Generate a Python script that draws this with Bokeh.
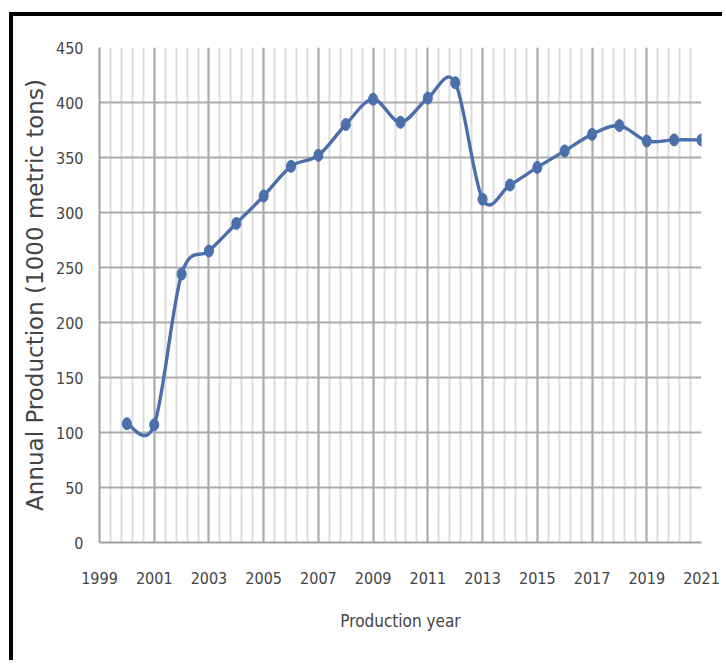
import numpy as np
from bokeh.plotting import figure
from bokeh.models import Range1d, FixedTicker, ColumnDataSource
from bokeh.embed import file_html
from bokeh.resources import INLINE

# ---- data ----
years = [2000, 2001, 2002, 2003, 2004, 2005, 2006, 2007, 2008, 2009, 2010,
         2011, 2012, 2013, 2014, 2015, 2016, 2017, 2018, 2019, 2020, 2021]
production = [108, 107, 244, 265, 290, 315, 342, 352, 380, 403, 382,
              404, 418, 312, 325, 341, 356, 371, 379, 365, 366, 366]
x_ticks = [1999, 2001, 2003, 2005, 2007, 2009, 2011, 2013, 2015, 2017, 2019, 2021]
y_ticks = [0, 50, 100, 150, 200, 250, 300, 350, 400, 450]
x_title = "Production year"
y_title = "Annual Production (1000 metric tons)"

LINE = "#4A6FAA"
GRID = "#ABABAB"
MINOR = "#DCDCDC"
TXT = "#444444"
NARROW = "DejaVu Sans Condensed"

p = figure(width=713, height=648, output_backend="svg", toolbar_location=None,
           x_range=Range1d(x_ticks[0], x_ticks[-1]), y_range=Range1d(y_ticks[0], y_ticks[-1]),
           min_border_left=86, min_border_top=31, min_border_right=25, min_border_bottom=122,
           margin=(12, 0, 0, 9),
           styles={"border-top": "4px solid black", "border-left": "4px solid black"})
p.outline_line_color = None
p.background_fill_color = "white"
p.border_fill_color = "white"

# smoothed line (Excel-like), control points derived from the data
xs = np.array(years, dtype=float)
ys = np.array(production, dtype=float)
xp = np.concatenate([[xs[0]], xs, [xs[-1]]])
yp = np.concatenate([[ys[0]], ys, [ys[-1]]])
n = len(xs) - 1
src = ColumnDataSource(dict(
    x0=xs[:-1], y0=ys[:-1], x1=xs[1:], y1=ys[1:],
    cx0=xs[:-1] + (xp[2:n + 2] - xp[0:n]) / 6.0,
    cy0=ys[:-1] + (yp[2:n + 2] - yp[0:n]) / 6.0,
    cx1=xs[1:] - (xp[3:n + 3] - xp[1:n + 1]) / 6.0,
    cy1=ys[1:] - (yp[3:n + 3] - yp[1:n + 1]) / 6.0,
))
p.bezier(x0="x0", y0="y0", x1="x1", y1="y1", cx0="cx0", cy0="cy0", cx1="cx1", cy1="cy1",
         source=src, line_color=LINE, line_width=3.4)
p.ellipse(x=years, y=production, width=9, height=12, width_units="screen",
          height_units="screen", fill_color=LINE, line_color=LINE)

# axes / grid
minor = [x_ticks[0] + 0.4 * i for i in range(int(round((x_ticks[-1] - x_ticks[0]) / 0.4)) + 1)]
p.xaxis.ticker = FixedTicker(ticks=x_ticks, minor_ticks=minor)
p.yaxis.ticker = FixedTicker(ticks=y_ticks)
for ax in (p.xaxis, p.yaxis):
    ax.major_tick_line_color = None
    ax.minor_tick_line_color = None
    ax.major_tick_out = 0
    ax.major_tick_in = 0
    ax.axis_line_color = "#A0A0A0"
    ax.axis_line_width = 2
    ax.major_label_text_font = NARROW
    ax.major_label_text_color = TXT
p.xaxis.major_label_text_font_size = "16px"
p.yaxis.major_label_text_font_size = "16px"
p.xaxis.major_label_standoff = 25
p.yaxis.major_label_standoff = 16

p.xaxis.axis_label = x_title
p.xaxis.axis_label_text_font = NARROW
p.xaxis.axis_label_text_font_size = "17px"
p.xaxis.axis_label_text_font_style = "normal"
p.xaxis.axis_label_text_color = TXT
p.xaxis.axis_label_standoff = 24

p.yaxis.axis_label = y_title
p.yaxis.axis_label_text_font = "DejaVu Sans"
p.yaxis.axis_label_text_font_size = "23px"
p.yaxis.axis_label_text_font_style = "normal"
p.yaxis.axis_label_text_color = TXT
p.yaxis.axis_label_standoff = 5

p.xgrid.grid_line_color = GRID
p.xgrid.grid_line_width = 2
p.xgrid.minor_grid_line_color = MINOR
p.xgrid.minor_grid_line_width = 2
p.ygrid.grid_line_color = GRID
p.ygrid.grid_line_width = 2
p.xgrid.level = "underlay"
p.ygrid.level = "underlay"

open("out.html", "w").write(file_html(p, INLINE))
